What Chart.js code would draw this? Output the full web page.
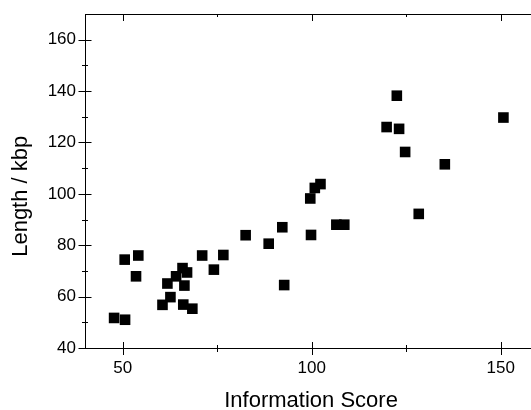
<!DOCTYPE html>
<html>
<head>
<meta charset="utf-8">
<script src="https://cdn.jsdelivr.net/npm/chart.js@4/dist/chart.umd.min.js"></script>
<style>
html,body{margin:0;padding:0;background:#fff;}
#wrap{width:531px;height:410px;position:relative;}
</style>
</head>
<body>
<div id="wrap"><canvas id="c" width="531" height="410"></canvas></div>
<script>
// Data
const infoScore = [47.7, 50.6, 50.5, 53.5, 54.1, 60.5, 61.8, 62.6, 64.1, 65.8, 67.0, 66.3, 66.0, 68.4, 71.0, 74.1, 76.6, 82.5, 88.6, 92.2, 92.7, 99.6, 99.8, 100.8, 102.3, 106.5, 108.6, 119.8, 122.5, 123.1, 124.7, 128.3, 135.2, 150.7];
const lengthKbp = [51.7, 51.0, 74.4, 67.9, 76.0, 56.8, 65.1, 59.8, 67.9, 71.1, 69.4, 64.3, 56.9, 55.3, 76.0, 70.5, 76.2, 83.9, 80.6, 87.0, 64.5, 98.2, 84.0, 102.3, 103.8, 88.0, 88.0, 126.0, 138.2, 125.3, 116.3, 92.2, 111.5, 129.7];
const xTickLabels = [50, 100, 150];
const yTickLabels = [40, 60, 80, 100, 120, 140, 160];
const xTitle = 'Information Score';
const yTitle = 'Length / kbp';

const points = infoScore.map((v, i) => ({x: v, y: lengthKbp[i]}));

const FONT = '"Liberation Sans", Arial, Helvetica, sans-serif';

const tickPlugin = {
  id: 'crossTicks',
  afterDraw(chart) {
    const {ctx, chartArea: {left, top, right, bottom}, scales: {x, y}} = chart;
    ctx.save();
    ctx.lineWidth = 1;
    ctx.strokeStyle = '#000';
    // top frame line
    ctx.beginPath();
    ctx.moveTo(left, top + 0.5);
    ctx.lineTo(chart.width, top + 0.5);
    ctx.stroke();
    // x ticks (bottom crossing, top inward)
    x.ticks.forEach(t => {
      const px = Math.round(x.getPixelForValue(t.value)) + 0.5;
      const major = xTickLabels.includes(t.value);
      const L = major ? 6 : 3;
      ctx.beginPath();
      ctx.moveTo(px, bottom - L);
      ctx.lineTo(px, bottom + L + 1);
      ctx.moveTo(px, top);
      ctx.lineTo(px, top + (major ? 7 : 3));
      ctx.stroke();
    });
    // y ticks (crossing)
    y.ticks.forEach(t => {
      const py = Math.round(y.getPixelForValue(t.value)) + 0.5;
      const major = yTickLabels.includes(t.value);
      const L = major ? 6.5 : 3;
      ctx.beginPath();
      ctx.moveTo(left - L, py);
      ctx.lineTo(left + L, py);
      ctx.stroke();
    });
    ctx.restore();
  }
};

new Chart(document.getElementById('c'), {
  type: 'scatter',
  data: {
    datasets: [{
      data: points,
      pointStyle: 'rect',
      pointRadius: 7.5,
      pointHoverRadius: 7.5,
      backgroundColor: '#000',
      borderColor: '#000',
      borderWidth: 0
    }]
  },
  options: {
    responsive: false,
    animation: false,
    events: [],
    layout: {autoPadding: false, padding: {top: 14, right: 0, bottom: 0, left: 0}},
    plugins: {legend: {display: false}, tooltip: {enabled: false}},
    scales: {
      x: {
        type: 'linear',
        min: 40,
        max: 158,
        afterBuildTicks: s => { s.ticks = s.ticks.filter(t => t.value % 25 === 0); },
        afterFit: s => { s.height = 62; },
        grid: {display: true, drawOnChartArea: false, drawTicks: true, tickLength: 10, tickColor: 'rgba(0,0,0,0)'},
        border: {display: true, color: '#000', width: 1},
        ticks: {
          stepSize: 25,
          includeBounds: false,
          autoSkip: false,
          maxRotation: 0,
          padding: 0,
          color: '#000',
          font: {family: FONT, size: 17},
          callback: v => xTickLabels.includes(v) ? String(v) : ''
        },
        title: {
          display: true,
          text: ' ' + xTitle,
          color: '#000',
          font: {family: FONT, size: 22, lineHeight: 1},
          padding: {top: 0, bottom: -2}
        }
      },
      y: {
        type: 'linear',
        min: 40,
        max: 170,
        afterBuildTicks: s => { s.ticks = s.ticks.filter(t => t.value % 10 === 0 && t.value <= 160); },
        afterFit: s => { s.width = 85; },
        grid: {display: true, drawOnChartArea: false, drawTicks: true, tickLength: 9, tickColor: 'rgba(0,0,0,0)'},
        border: {display: true, color: '#000', width: 1},
        ticks: {
          stepSize: 10,
          includeBounds: false,
          autoSkip: false,
          padding: 0,
          color: '#000',
          font: {family: FONT, size: 17},
          callback: v => yTickLabels.includes(v) ? String(v) : ''
        },
        title: {
          display: true,
          text: yTitle + '     ',
          color: '#000',
          font: {family: FONT, size: 22, lineHeight: 1},
          padding: {top: 10, bottom: 0}
        }
      }
    }
  },
  plugins: [tickPlugin]
});
</script>
</body>
</html>
